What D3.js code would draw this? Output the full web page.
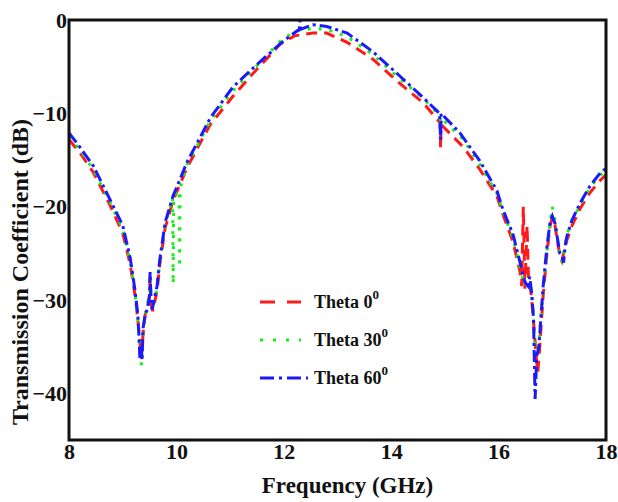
<!DOCTYPE html>
<html>
<head>
<meta charset="utf-8">
<script src="https://cdn.jsdelivr.net/npm/d3@7"></script>
<style>
  body { margin: 0; background: #fff; }
  svg text { font-family: "Liberation Serif", "Times New Roman", serif; font-weight: bold; fill: #111; }
</style>
</head>
<body>
<div id="chart"></div>
<script>
// Theta 0 (red, dashed)
const freq0 = [8.0, 8.2, 8.45, 8.76, 9.0, 9.14, 9.23, 9.28, 9.32, 9.35, 9.38, 9.42, 9.46, 9.5, 9.51, 9.53, 9.56, 9.64, 9.69, 9.79, 9.94, 10.0, 10.2, 10.44, 10.63, 11.05, 11.4, 11.93, 12.2, 12.54, 12.8, 13.18, 13.66, 14.16, 14.6, 14.91, 14.92, 14.93, 15.34, 15.65, 15.97, 16.08, 16.27, 16.4, 16.43, 16.46, 16.49, 16.53, 16.56, 16.6, 16.64, 16.7, 16.73, 16.76, 16.83, 16.9, 16.96, 17.0, 17.05, 17.09, 17.14, 17.18, 17.21, 17.24, 17.27, 17.37, 17.52, 17.7, 17.89, 18.0];
const theta0 = [-12.8, -14.2, -16.3, -19.8, -22.8, -26.2, -29.5, -32.0, -34.5, -36.2, -33.5, -31.5, -31.0, -29.5, -27.5, -30.5, -31.2, -29.0, -26.2, -22.3, -19.3, -18.5, -15.8, -13.2, -11.2, -8.2, -5.9, -2.6, -1.7, -1.4, -1.4, -2.4, -4.2, -6.8, -8.9, -11.0, -13.7, -11.2, -13.6, -16.0, -18.9, -20.8, -23.8, -27.0, -28.5, -20.0, -28.8, -22.0, -28.5, -29.0, -31.5, -36.0, -37.8, -35.5, -29.5, -25.0, -22.0, -21.2, -22.0, -23.5, -25.2, -25.8, -25.0, -24.5, -23.6, -22.0, -20.2, -18.5, -17.2, -16.6];

// Theta 30 (green, dotted)
const freq30 = [8.0, 8.2, 8.45, 8.76, 9.0, 9.14, 9.23, 9.28, 9.32, 9.35, 9.38, 9.42, 9.46, 9.5, 9.51, 9.53, 9.56, 9.64, 9.69, 9.79, 9.93, 9.94, 9.95, 10.05, 10.06, 10.07, 10.2, 10.44, 10.63, 11.05, 11.4, 11.93, 12.2, 12.54, 12.8, 13.18, 13.66, 14.16, 14.6, 14.91, 14.92, 14.93, 15.34, 15.65, 15.97, 16.08, 16.27, 16.4, 16.49, 16.56, 16.6, 16.64, 16.68, 16.71, 16.75, 16.83, 16.9, 16.96, 17.0, 17.05, 17.09, 17.14, 17.18, 17.21, 17.24, 17.27, 17.37, 17.52, 17.7, 17.89, 18.0];
const theta30 = [-12.5, -13.9, -16.0, -19.5, -22.4, -25.9, -29.3, -32.0, -35.5, -37.0, -33.5, -31.5, -30.5, -29.0, -27.2, -30.2, -30.8, -28.8, -26.0, -22.0, -19.0, -28.3, -18.8, -18.2, -26.5, -18.0, -15.5, -12.9, -10.8, -7.6, -5.5, -2.3, -1.2, -0.9, -1.0, -1.8, -3.7, -6.3, -8.4, -10.3, -12.0, -10.5, -12.8, -15.5, -18.6, -20.5, -23.4, -26.5, -28.5, -28.0, -28.8, -31.0, -35.5, -36.0, -34.5, -29.0, -24.8, -21.5, -20.0, -21.5, -23.2, -25.2, -26.0, -25.0, -24.2, -23.0, -21.5, -19.8, -18.0, -16.6, -16.2];

// Theta 60 (blue, dash-dot)
const freq60 = [8.0, 8.2, 8.45, 8.76, 9.0, 9.14, 9.23, 9.28, 9.3, 9.32, 9.34, 9.36, 9.38, 9.42, 9.46, 9.5, 9.51, 9.53, 9.55, 9.64, 9.69, 9.79, 9.94, 10.0, 10.2, 10.44, 10.63, 11.05, 11.4, 11.69, 12.0, 12.29, 12.3, 12.31, 12.54, 12.8, 13.18, 13.66, 14.16, 14.5, 14.9, 14.92, 14.93, 15.28, 15.65, 15.97, 16.08, 16.27, 16.4, 16.49, 16.55, 16.58, 16.62, 16.65, 16.68, 16.71, 16.75, 16.83, 16.9, 16.96, 17.0, 17.05, 17.09, 17.14, 17.18, 17.21, 17.24, 17.27, 17.37, 17.52, 17.7, 17.89, 18.0];
const theta60 = [-12.1, -13.6, -15.6, -19.2, -22.0, -25.5, -29.0, -31.5, -33.5, -36.2, -35.0, -36.5, -33.0, -31.5, -31.0, -29.5, -27.0, -30.5, -31.0, -28.5, -25.7, -21.7, -18.8, -18.0, -15.2, -12.6, -10.5, -7.2, -5.3, -3.8, -2.2, -1.0, -0.1, -1.0, -0.5, -0.7, -1.4, -3.4, -6.0, -7.8, -10.0, -12.8, -10.0, -12.1, -15.1, -18.3, -20.3, -23.0, -26.0, -28.1, -28.5, -27.5, -29.5, -32.0, -40.6, -36.0, -35.0, -28.5, -24.3, -21.6, -21.0, -21.8, -23.2, -25.0, -25.3, -26.0, -24.2, -23.2, -21.4, -19.6, -17.8, -16.4, -15.9];

const xTicks = [8, 10, 12, 14, 16, 18];
const yTicks = [0, -10, -20, -30, -40];
const seriesNames = ["Theta 0", "Theta 30", "Theta 60"];

const W = 618, H = 502;
const margin = {top: 20, right: 12, bottom: 62, left: 69};
const width = W - margin.left - margin.right,
      height = H - margin.top - margin.bottom;

const svg = d3.select("#chart")
  .append("svg")
  .attr("width", W)
  .attr("height", H)
  .append("g")
  .attr("transform", `translate(${margin.left}, ${margin.top})`);

const x = d3.scaleLinear().domain([8, 18]).range([0, width]);
const y = d3.scaleLinear().domain([-45, 0]).range([height, 0]);

// axes (labels only, frame drawn separately)
svg.append("g")
  .attr("transform", `translate(0, ${height})`)
  .style("font-size", "22px")
  .call(d3.axisBottom(x).tickValues(xTicks).tickSize(0).tickPadding(3))
  .call(g => g.select(".domain").remove());

svg.append("g")
  .style("font-size", "22px")
  .call(d3.axisLeft(y).tickValues(yTicks).tickSize(0).tickPadding(2))
  .call(g => g.select(".domain").remove());

svg.selectAll(".tick text")
  .attr("fill", "#111")
  .style("font-family", '"Liberation Serif", serif')
  .style("font-weight", "bold");

// axis titles
svg.append("text")
  .attr("x", width / 2 + 10)
  .attr("y", height + 53)
  .attr("text-anchor", "middle")
  .style("font-size", "23px")
  .text("Frequency (GHz)");

svg.append("text")
  .attr("transform", `translate(${-41}, ${height / 2 + 42}) rotate(-90)`)
  .attr("text-anchor", "middle")
  .style("font-size", "24px")
  .text("Transmission Coefficient (dB)");

// curves
const styles = [
  {color: "#ff1a1a", dash: "11,7"},
  {color: "#1aee1a", dash: "3,8"},
  {color: "#1a1aff", dash: "12,4,3,4"}
];
const series = [
  {f: freq0, v: theta0},
  {f: freq30, v: theta30},
  {f: freq60, v: theta60}
];

const line = d3.line()
  .x(d => x(d[0]))
  .y(d => y(d[1]));

series.forEach((s, i) => {
  const pts = s.f.map((f, j) => [f, s.v[j]]);
  svg.append("path")
    .datum(pts)
    .attr("fill", "none")
    .attr("stroke", styles[i].color)
    .attr("stroke-width", 3)
    .attr("stroke-dasharray", styles[i].dash)
    .attr("d", line);
});

// frame
svg.append("rect")
  .attr("x", 0)
  .attr("y", 0)
  .attr("width", width)
  .attr("height", height)
  .attr("fill", "none")
  .attr("stroke", "#111")
  .attr("stroke-width", 3);

// legend
const legend = svg.append("g")
  .attr("transform", `translate(${191}, ${282})`);

seriesNames.forEach((name, i) => {
  const row = legend.append("g").attr("transform", `translate(0, ${i * 38})`);
  row.append("line")
    .attr("x1", 0)
    .attr("x2", i === 2 ? 48 : 41)
    .attr("y1", 0)
    .attr("y2", 0)
    .attr("stroke", styles[i].color)
    .attr("stroke-width", 3)
    .attr("stroke-dasharray", i === 0 ? "15,12" : i === 1 ? "3,10" : "14,5,3,5");
  const t = row.append("text")
    .attr("x", 54)
    .attr("y", 6)
    .style("font-size", "18px");
  t.append("tspan").text(name);
  t.append("tspan")
    .attr("dy", -9)
    .style("font-size", "13px")
    .text("0");
});
</script>
</body>
</html>
